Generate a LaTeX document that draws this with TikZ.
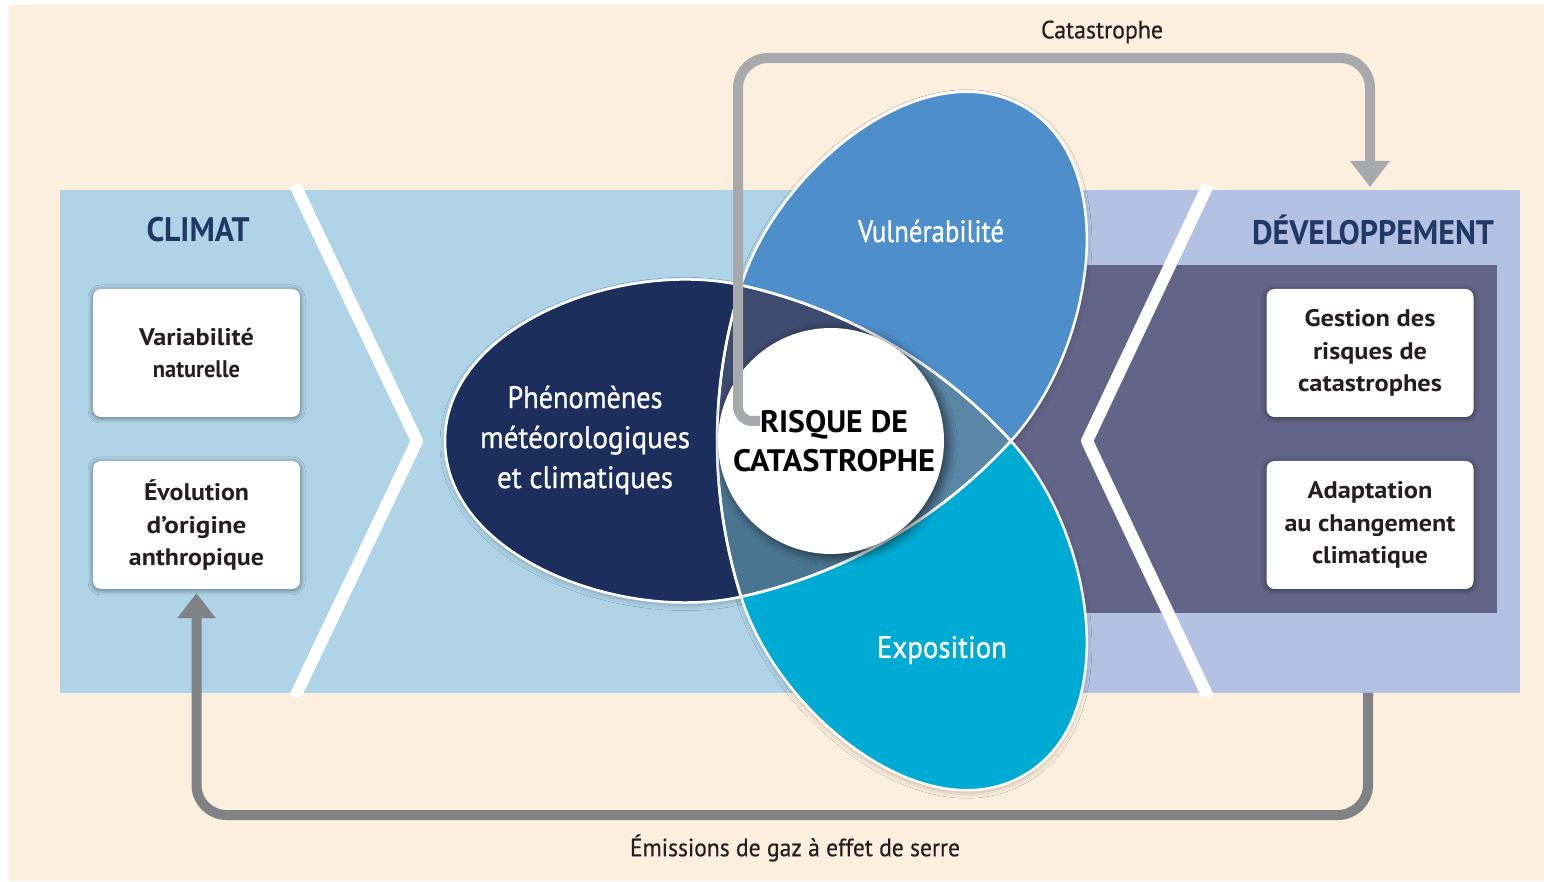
\documentclass[tikz,border=0pt]{standalone}
\usepackage{fontspec}
\usepackage{graphicx}
\setmainfont{PT Sans}
\newfontfamily\medfont[FakeBold=0.9]{PT Sans}
\newfontfamily\capfont[FakeBold=0.4]{PT Sans}
\usetikzlibrary{arrows.meta,shadows.blur}
\definecolor{cream}{HTML}{FDEFDE}
\definecolor{bandblue}{HTML}{AFD4E8}
\definecolor{bandlav}{HTML}{B3C1E2}
\definecolor{slate}{HTML}{636588}
\definecolor{phenc}{HTML}{1B2E5C}
\definecolor{vulnc}{HTML}{4E8ECB}
\definecolor{expoc}{HTML}{00ABD3}
\definecolor{rone}{HTML}{3E4A6E}
\definecolor{rtwo}{HTML}{5B87A7}
\definecolor{rthree}{HTML}{4A7590}
\definecolor{hdrc}{HTML}{1F3864}
\definecolor{boxtxt}{HTML}{231F20}
\definecolor{arrowlight}{HTML}{A7A9AC}
\definecolor{arrowdark}{HTML}{808285}
\newcommand\fw[2]{\resizebox{#1pt}{\height}{#2}}
\def\petalpath{(180,0) arc[start angle=42.5,end angle=77.5,radius=518] .. controls (-209.9,182.4) and (-386,115) .. (-386,0) .. controls (-386,-115) and (-209.9,-182.4) .. (-89.9,-155.7) arc[start angle=-77.5,end angle=-42.5,radius=518] -- cycle}
\def\tripath{(180,0) arc[start angle=42.5,end angle=77.5,radius=518] arc[start angle=162.5,end angle=197.5,radius=518] arc[start angle=-77.5,end angle=-42.5,radius=518] -- cycle}
\begin{document}
\begin{tikzpicture}[x=1pt,y=1pt,
  box/.style={fill=white, rounded corners=8pt, minimum width=207pt, minimum height=128pt, inner sep=0pt, align=center, text=boxtxt, font=\fontsize{24}{32.5}\selectfont\bfseries, blur shadow={shadow blur radius=5pt, shadow xshift=0pt, shadow yshift=-1pt, shadow opacity=50, shadow blur steps=12}},
  hdr/.style={text=hdrc, font=\fontsize{34}{40}\selectfont\bfseries, inner sep=0pt},
  petaltxt/.style={text=white, font=\fontsize{31}{40}\selectfont\medfont, align=center, inner sep=0pt},
  caption/.style={text=boxtxt, font=\fontsize{25}{30}\selectfont\capfont, inner sep=0pt},
  outline/.style={draw=white, line width=2.5pt},
  chevron/.style={draw=white, line width=12pt, line join=round},
  catarrow/.style={draw=arrowlight, line width=10pt, -{Triangle[width=38pt,length=26pt]}},
  emarrow/.style={draw=arrowdark, line width=10pt, -{Triangle[width=37pt,length=25pt]}},
  petalshadow/.style={blur shadow={shadow blur radius=5pt, shadow xshift=0pt, shadow yshift=-3pt, shadow opacity=22, shadow blur steps=12}},
]
\useasboundingbox (0,0) rectangle (1544,881);
% background
\fill[white] (0,0) rectangle (1544,881);
\fill[cream] (9,0) rectangle (1544,876);
% bands
\fill[bandblue] (60,188) rectangle (900,691);
\fill[bandlav] (900,188) rectangle (1520,691);
\fill[slate] (1000,268) rectangle (1497,616);
\begin{scope}
  \clip (0,184) rectangle (1544,696);
  \draw[chevron] (295,696) -- (417,440) -- (295,184);
  \draw[chevron] (1208,696) -- (1087,440) -- (1208,184);
\end{scope}
\coordinate (devtop) at (1370,694);
\coordinate (devbottom) at (1368,188);
% headers
\node[hdr] (climat) at (198,651) {\fw{103}{CLIMAT}};
\node[hdr] (dev) at (1373,651) {\fw{242}{DÉVELOPPEMENT}};
% boxes
\node[box] (var) at (196.5,528) {\fw{115}{Variabilité}\\\fw{87}{naturelle}};
\node[box] (evo) at (196.5,356) {\fw{105}{Évolution}\\\fw{100}{d’origine}\\\fw{135}{anthropique}};
\node[box] (grc) at (1370,528) {\fw{131}{Gestion des}\\\fw{114}{risques de}\\\fw{144}{catastrophes}};
\node[box] (acc) at (1370,356) {\fw{125}{Adaptation}\\\fw{171}{au changement}\\\fw{116}{climatique}};
% bottom arrow
\draw[emarrow, rounded corners=30pt] (devbottom) -- (1368,66) -- (evo.south |- 0,66) -- ([yshift=-4pt]evo.south);
% petals
\begin{scope}[shift={(831,440)}]
  \path[petalshadow] \petalpath;
  \begin{scope}[rotate=-120] \path[petalshadow] \petalpath; \end{scope}
  \begin{scope}[rotate=120] \path[petalshadow] \petalpath; \end{scope}
  \fill[phenc] \petalpath;
  \begin{scope}[rotate=-120] \fill[vulnc] \petalpath; \end{scope}
  \begin{scope}[rotate=120] \fill[expoc] \petalpath; \end{scope}
  \begin{scope}
    \clip \tripath;
    \fill[rtwo] (-300,-300) rectangle (300,300);
    \fill[rone] (0,0) -- (60:400) -- (120:400) -- (180:400) -- cycle;
    \fill[rthree] (0,0) -- (180:400) -- (240:400) -- (300:400) -- cycle;
  \end{scope}
  \draw[outline] \petalpath;
  \begin{scope}[rotate=-120] \draw[outline] \petalpath; \end{scope}
  \begin{scope}[rotate=120] \draw[outline] \petalpath; \end{scope}
\end{scope}
% petal labels
\node[petaltxt] (phen) at (585,441) {\fw{155}{Phénomènes}\\\fw{210}{météorologiques}\\\fw{176}{et climatiques}};
\node[petaltxt] (vuln) at (931,650) {\fw{146}{Vulnérabilité}};
\node[petaltxt] (expo) at (942,231) {\fw{130}{Exposition}};
% central circle
\node[circle, fill=white, minimum size=226pt, inner sep=0pt, blur shadow={shadow blur radius=9pt, shadow xshift=4pt, shadow yshift=-3pt, shadow opacity=60, shadow blur steps=12}] (risk) at (831,440) {};
\node[align=center, text=black, font=\fontsize{31}{39}\selectfont\bfseries, inner sep=0pt] (risktxt) at (834,440) {\fw{148}{RISQUE DE}\\\fw{202}{CATASTROPHE}};
\coordinate (cattail) at (760,460);
% top arrow
\draw[catarrow] (cattail) [rounded corners=14pt] -- (738,460) [rounded corners=30pt] -- (738,823) -- (1370,823) -- (devtop);
% captions
\node[caption] (cattxt) at (1102,849) {\fw{122}{Catastrophe}};
\node[caption] (emtxt) at (795,33) {\fw{330}{Émissions de gaz à effet de serre}};
\end{tikzpicture}
\end{document}
